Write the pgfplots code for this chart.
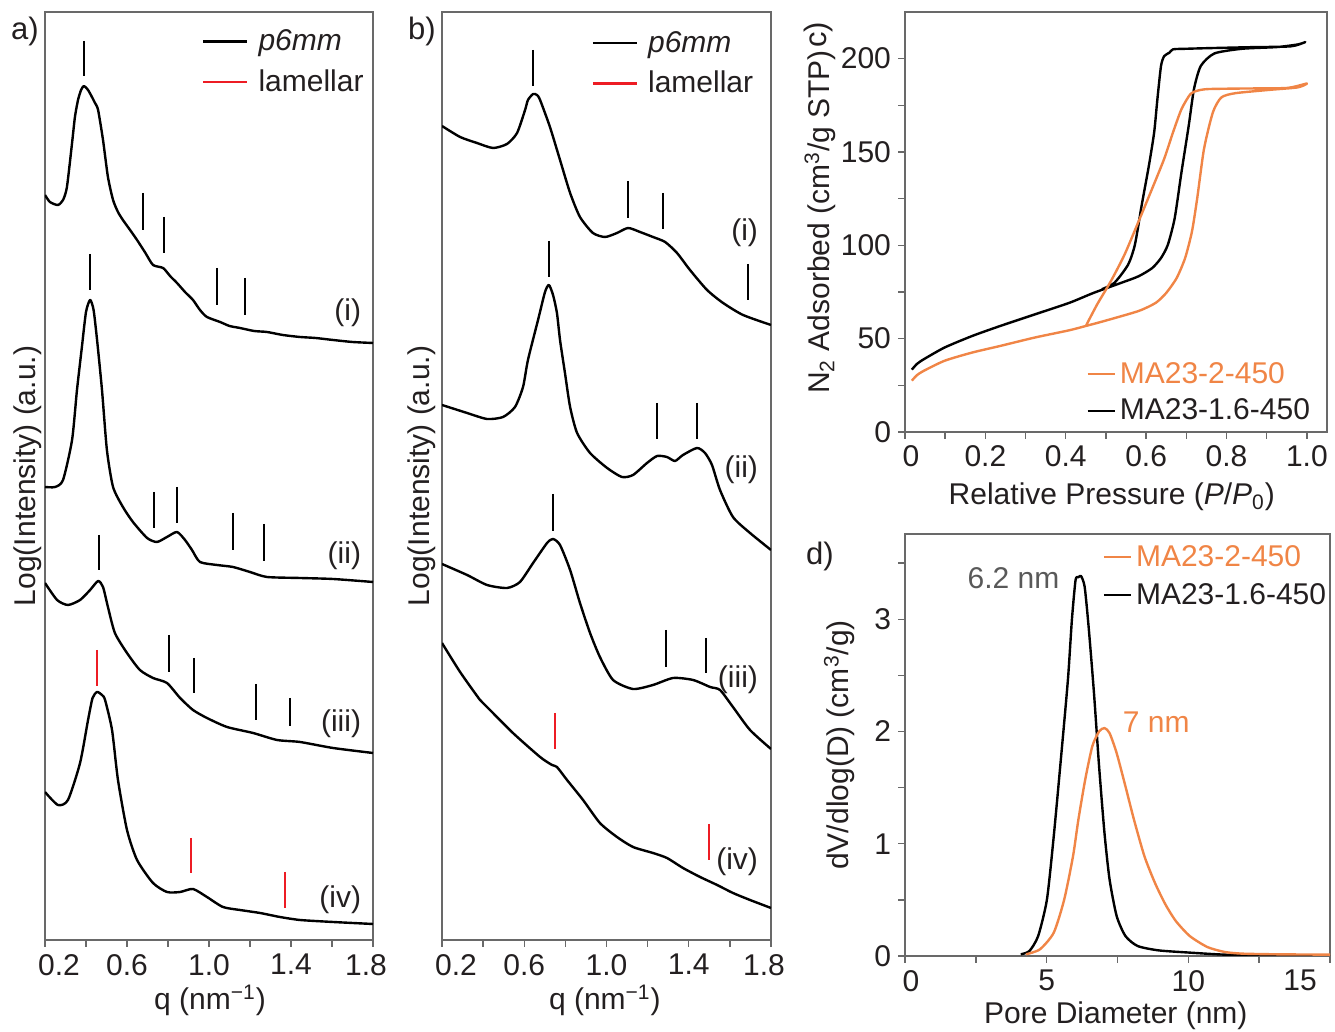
\documentclass[border=0pt]{standalone}
\usepackage{fontspec}
\setmainfont{Liberation Sans}
\usepackage{pgfplots}
\pgfplotsset{compat=1.18}
\definecolor{orng}{RGB}{240,133,70}
\definecolor{lred}{RGB}{237,28,36}
\definecolor{spine}{RGB}{105,105,105}
\definecolor{txt}{RGB}{35,31,32}
\newcommand{\fs}{\fontsize{15}{17.5}\selectfont}
\tikzset{roman/.style={anchor=east, font=\fs, text=txt}}
\pgfplotsset{
  base/.style={scale only axis, anchor=south west,
    axis line style={spine, line width=0.7pt},
    tick style={spine, line width=0.7pt},
    tick align=outside, major tick length=3.5pt, minor tick length=3.5pt,
    xtick pos=left, ytick pos=left,
    tick label style={font=\fs, text=txt},
    label style={font=\fs, text=txt},
    /pgf/number format/assume math mode=true,
    legend cell align=left,
    legend style={draw=none, fill=none, font=\fs, text=txt, inner sep=0pt, outer sep=0pt,
      /tikz/every even column/.append style={column sep=4pt}},
  },
  saxs/.style={base, xmin=0.2, xmax=1.8, ymin=-940, ymax=-12,
    xtick={0.2,0.6,1.0,1.4,1.8}, xticklabels={{0.2\kern-14pt},0.6,1.0,1.4,{\kern-7pt1.8}},
    minor xtick={0.4,0.8,1.2,1.6}, ytick=\empty,
    xlabel={q (nm\textsuperscript{−1})}, ylabel={Log(Intensity) (a.u.)},
    legend image code/.code={\draw[##1] (0pt,0pt) -- (22pt,0pt); \path (25pt,0pt);},
    legend style={row sep=4pt},
  },
  shortleg/.style={legend image code/.code={\draw[##1] (0pt,0pt) -- (13.5pt,0pt);}},
  curve/.style={black, line width=1.2pt, line join=round, smooth, tension=0.4},
  mbar/.style={black, line width=1.2pt, unbounded coords=jump, forget plot},
  rbar/.style={lred, line width=1.2pt, unbounded coords=jump, forget plot},
}
\begin{document}
\begin{tikzpicture}
\useasboundingbox (0,0) rectangle (667.5pt,516pt);
% ---------------- a) ----------------
\begin{axis}[saxs, at={(22.5pt,46pt)}, width=164pt, height=464pt,
  xlabel style={at={(axis description cs:0.503,-0.065)}, anchor=center},
  ylabel style={at={(axis description cs:-0.052,0.5)}, anchor=center},
  legend style={at={(axis description cs:0.479,0.9855)}, anchor=north west}]
\addplot[curve, forget plot] coordinates {
(0.200,-195) (0.224,-202) (0.263,-205) (0.288,-200) (0.307,-187) (0.332,-143) (0.346,-117)
(0.361,-100) (0.376,-90) (0.390,-86) (0.410,-90) (0.429,-97) (0.444,-103) (0.459,-110)
(0.483,-140) (0.507,-177) (0.532,-200) (0.556,-212) (0.580,-220) (0.615,-230) (0.649,-240)
(0.690,-253) (0.727,-265) (0.776,-268) (0.810,-276) (0.844,-283) (0.883,-292) (0.922,-300)
(0.956,-310) (0.990,-317) (1.054,-322) (1.100,-326) (1.151,-328) (1.220,-331) (1.283,-332)
(1.360,-335) (1.444,-337) (1.520,-338) (1.605,-340) (1.700,-342) (1.800,-343)};
\addplot[curve, forget plot] coordinates {
(0.200,-487) (0.249,-487) (0.288,-480) (0.332,-440) (0.356,-390) (0.380,-347) (0.400,-312)
(0.420,-300) (0.437,-310) (0.454,-340) (0.478,-390) (0.502,-450) (0.532,-487) (0.580,-507)
(0.629,-522) (0.698,-538) (0.746,-542) (0.795,-537) (0.844,-532) (0.883,-540) (0.917,-550)
(0.956,-562) (1.039,-565) (1.117,-567) (1.200,-572) (1.283,-577) (1.444,-578) (1.605,-579)
(1.800,-582)};
\addplot[curve, forget plot] coordinates {
(0.200,-583) (0.259,-600) (0.312,-605) (0.371,-600) (0.420,-590) (0.459,-581) (0.483,-587)
(0.507,-607) (0.541,-633) (0.600,-653) (0.663,-670) (0.727,-678) (0.795,-683) (0.859,-698)
(0.922,-710) (0.990,-718) (1.088,-727) (1.215,-733) (1.332,-740) (1.444,-742) (1.605,-748)
(1.800,-753)};
\addplot[curve, forget plot] coordinates {
(0.200,-792) (0.263,-805) (0.312,-800) (0.371,-763) (0.410,-720) (0.432,-698) (0.454,-692)
(0.478,-695) (0.493,-700) (0.527,-730) (0.556,-780) (0.600,-830) (0.649,-860) (0.727,-883)
(0.795,-892) (0.859,-892) (0.922,-889) (0.990,-897) (1.068,-907) (1.151,-910) (1.249,-913)
(1.346,-917) (1.444,-920) (1.605,-922) (1.800,-924)};
\addplot[mbar] coordinates {
(0.390,-41) (0.390,-76) (0.5,nan) (0.678,-193) (0.678,-230) (0.7,nan) (0.780,-217) (0.780,-253)
(0.9,nan) (1.039,-268) (1.039,-305) (1.1,nan) (1.176,-278) (1.176,-315)};
\addplot[mbar] coordinates {
(0.420,-254) (0.420,-290) (0.5,nan) (0.732,-492) (0.732,-528) (0.8,nan) (0.844,-487) (0.844,-523)
(0.9,nan) (1.117,-513) (1.117,-550) (1.2,nan) (1.268,-524) (1.268,-561)};
\addplot[mbar] coordinates {
(0.463,-535) (0.463,-570) (0.5,nan) (0.805,-635) (0.805,-672) (0.85,nan) (0.927,-658) (0.927,-693)
(1.0,nan) (1.229,-684) (1.229,-720) (1.3,nan) (1.395,-698) (1.395,-726)};
\addplot[rbar] coordinates {
(0.454,-650) (0.454,-686) (0.5,nan) (0.912,-838) (0.912,-873) (1.0,nan) (1.371,-872) (1.371,-908)};
\addlegendimage{black, line width=1.2pt}
\addlegendentry{\textit{p6mm}}
\addlegendimage{lred, line width=1.2pt}
\addlegendentry{lamellar}
\node[roman] at (axis cs:1.776,-313) {(i)};
\node[roman] at (axis cs:1.776,-556) {(ii)};
\node[roman] at (axis cs:1.776,-724) {(iii)};
\node[roman] at (axis cs:1.776,-900) {(iv)};
\end{axis}
% ---------------- b) ----------------
\begin{axis}[saxs, at={(221pt,46pt)}, width=164.5pt, height=464pt,
  xlabel style={at={(axis description cs:0.495,-0.065)}, anchor=center},
  ylabel style={at={(axis description cs:-0.061,0.5)}, anchor=center},
  legend style={at={(axis description cs:0.455,0.9835)}, anchor=north west}]
\addplot[curve, forget plot] coordinates {
(0.200,-126) (0.288,-137) (0.370,-143) (0.448,-148) (0.516,-144) (0.565,-133) (0.604,-110)
(0.618,-100) (0.643,-94) (0.662,-95) (0.677,-100) (0.725,-127) (0.774,-160) (0.823,-193)
(0.871,-217) (0.934,-233) (0.993,-237) (1.051,-233) (1.105,-228) (1.163,-232) (1.226,-237)
(1.285,-242) (1.343,-253) (1.406,-270) (1.489,-290) (1.567,-303) (1.664,-315) (1.800,-325)};
\addplot[curve, forget plot] coordinates {
(0.200,-405) (0.322,-413) (0.419,-419) (0.497,-417) (0.555,-407) (0.594,-387) (0.618,-360)
(0.667,-320) (0.701,-292) (0.720,-285) (0.740,-295) (0.759,-313) (0.774,-340) (0.798,-373)
(0.823,-407) (0.857,-433) (0.920,-453) (1.003,-468) (1.075,-477) (1.129,-475) (1.197,-463)
(1.246,-456) (1.294,-457) (1.333,-461) (1.372,-455) (1.440,-448) (1.479,-453) (1.513,-465)
(1.552,-490) (1.615,-517) (1.698,-533) (1.800,-550)};
\addplot[curve, forget plot] coordinates {
(0.200,-564) (0.322,-575) (0.419,-585) (0.516,-588) (0.579,-582) (0.643,-563) (0.711,-543)
(0.740,-539) (0.774,-545) (0.823,-570) (0.871,-603) (0.920,-633) (0.968,-657) (1.032,-680)
(1.129,-689) (1.226,-685) (1.324,-678) (1.421,-680) (1.504,-687) (1.552,-690) (1.615,-707)
(1.698,-730) (1.800,-749)};
\addplot[curve, forget plot] coordinates {
(0.200,-643) (0.288,-672) (0.385,-700) (0.419,-707) (0.545,-733) (0.677,-757) (0.735,-765)
(0.759,-767) (0.808,-780) (0.886,-800) (0.968,-823) (1.051,-837) (1.129,-847) (1.226,-853)
(1.294,-858) (1.372,-868) (1.455,-877) (1.538,-885) (1.615,-893) (1.698,-900) (1.800,-908)};
\addplot[mbar] coordinates {
(0.643,-50) (0.643,-86) (0.8,nan) (1.105,-181) (1.105,-218) (1.2,nan) (1.275,-193) (1.275,-229)
(1.4,nan) (1.688,-264) (1.688,-300)};
\addplot[mbar] coordinates {
(0.720,-241) (0.720,-277) (0.8,nan) (1.246,-403) (1.246,-439) (1.3,nan) (1.440,-403) (1.440,-439)};
\addplot[mbar] coordinates {
(0.740,-494) (0.740,-531) (0.8,nan) (1.289,-630) (1.289,-667) (1.4,nan) (1.484,-638) (1.484,-673)};
\addplot[rbar] coordinates {
(0.750,-713) (0.750,-749) (1.0,nan) (1.499,-824) (1.499,-860)};
\addlegendimage{black, line width=1.2pt}
\addlegendentry{\textit{p6mm}}
\addlegendimage{lred, line width=1.2pt}
\addlegendentry{lamellar}
\node[roman] at (axis cs:1.771,-233) {(i)};
\node[roman] at (axis cs:1.771,-470) {(ii)};
\node[roman] at (axis cs:1.771,-680) {(iii)};
\node[roman] at (axis cs:1.771,-862) {(iv)};
\end{axis}
% ---------------- c) ----------------
\begin{axis}[base, shortleg, at={(452.5pt,300pt)}, width=211pt, height=210pt,
  xmin=0, xmax=1.05, ymin=0, ymax=225,
  xtick={0,0.2,0.4,0.6,0.8,1.0}, xticklabels={{0\kern-6pt},0.2,0.4,0.6,0.8,1.0},
  minor xtick={0.1,0.3,0.5,0.7,0.9},
  ytick={0,50,100,150,200}, yticklabels={0,50,100,150,200},
  minor ytick={25,75,125,175},
  xlabel={Relative Pressure (\textit{P}/\textit{P}\textsubscript{0})},
  ylabel={N\textsubscript{2} Adsorbed (cm\textsuperscript{3}/g STP)},
  xlabel style={at={(axis description cs:0.49,-0.155)}, anchor=center},
  ylabel style={at={(axis description cs:-0.201,0.5)}, anchor=center},
  legend style={at={(axis description cs:0.43,0.176)}, anchor=north west, row sep=2.5pt}]
\addplot[curve, forget plot] coordinates {
(0.017,33.4) (0.030,36.5) (0.047,39.0) (0.099,45.3) (0.168,51.5) (0.237,56.8) (0.323,63.0)
(0.409,69.2) (0.469,74.5) (0.538,79.9) (0.581,83.4) (0.615,87.8) (0.637,93.2) (0.654,100.3)
(0.671,114.5) (0.688,139.3) (0.706,164.2) (0.719,183.7) (0.736,196.1) (0.770,202.8)
(0.839,205.3) (0.925,206.2) (0.977,207.6) (0.996,208.9)
(0.960,206.6) (0.850,206.1) (0.750,205.6) (0.701,205.3) (0.667,205.0) (0.658,203.2)
(0.645,201.4) (0.637,196.1) (0.628,178.3) (0.620,160.6) (0.607,142.9) (0.589,121.6)
(0.572,100.3) (0.555,89.6) (0.521,79.9) (0.490,76.5)};
\addplot[curve, orng, forget plot] coordinates {
(0.017,27.5) (0.030,30.5) (0.047,32.8) (0.099,38.2) (0.168,42.6) (0.237,46.1) (0.323,50.6)
(0.409,54.5) (0.450,56.8) (0.495,59.4) (0.581,64.8) (0.624,69.2) (0.650,74.5) (0.676,82.5)
(0.697,93.2) (0.714,107.4) (0.727,125.1) (0.744,151.7) (0.766,171.2) (0.787,179.2)
(0.822,181.5) (0.908,183.3) (0.977,184.6) (1.000,186.7)
(0.950,184.3) (0.839,184.0) (0.753,183.7) (0.727,182.8) (0.710,181.0) (0.688,173.0)
(0.667,160.6) (0.645,146.4) (0.615,130.4) (0.581,112.7) (0.546,94.9) (0.512,80.7)
(0.478,68.3) (0.450,56.8)};
\addlegendimage{orng, line width=1.2pt}
\addlegendentry{\textcolor{orng}{MA23-2-450}}
\addlegendimage{black, line width=1.2pt}
\addlegendentry{MA23-1.6-450}
\end{axis}
% ---------------- d) ----------------
\begin{axis}[base, shortleg, at={(452.5pt,38pt)}, width=212.5pt, height=211pt,
  xmin=0, xmax=15, ymin=0, ymax=3.76,
  xtick={0,5,10,15}, xticklabels={{0\kern-6pt},5,10,{\kern-30pt15}}, minor xtick={2.5,7.5,12.5},
  ytick={0,1,2,3}, yticklabels={0,1,2,3}, minor ytick={0.5,1.5,2.5,3.5},
  xlabel={Pore Diameter (nm)},
  ylabel={dV/dlog(D) (cm\textsuperscript{3}/g)},
  xlabel style={at={(axis description cs:0.496,-0.142)}, anchor=center},
  ylabel style={at={(axis description cs:-0.154,0.5)}, anchor=center},
  legend style={at={(axis description cs:0.465,0.983)}, anchor=north west, row sep=3pt}]
\addplot[curve, forget plot] coordinates {
(4.085,0.015) (4.39,0.044) (4.70,0.178) (5.01,0.504) (5.25,1.067) (5.50,1.749) (5.75,2.461)
(5.89,2.994) (6.02,3.350) (6.12,3.374) (6.21,3.386) (6.34,3.291) (6.48,2.935) (6.67,2.342)
(6.85,1.690) (7.04,1.097) (7.22,0.682) (7.47,0.356) (7.78,0.178) (8.21,0.089) (8.95,0.050)
(10.05,0.030) (11.28,0.012) (13.13,0.003) (15,0)};
\addplot[curve, orng, forget plot] coordinates {
(4.27,0.015) (4.76,0.059) (5.25,0.208) (5.62,0.504) (5.93,0.889) (6.12,1.216) (6.36,1.571)
(6.61,1.868) (6.85,2.001) (7.04,2.031) (7.22,1.986) (7.47,1.808) (7.78,1.512) (8.08,1.216)
(8.45,0.889) (8.82,0.652) (9.19,0.460) (9.56,0.311) (10.05,0.178) (10.67,0.080) (11.28,0.036)
(11.90,0.021) (13.13,0.015) (15,0.012)};
\addlegendimage{orng, line width=1.2pt}
\addlegendentry{\textcolor{orng}{MA23-2-450}}
\addlegendimage{black, line width=1.2pt}
\addlegendentry{MA23-1.6-450}
\node[font=\fs, text=black!65] at (axis cs:3.83,3.368) {6.2 nm};
\node[font=\fs, text=orng] at (axis cs:8.87,2.085) {7 nm};
\end{axis}
% panel labels
\node[font=\fontsize{15.5}{18}\selectfont, text=txt] at (12.5pt,500.5pt) {a)};
\node[font=\fontsize{15.5}{18}\selectfont, text=txt] at (211pt,500.5pt) {b)};
\node[font=\fontsize{15.5}{18}\selectfont, text=txt, rotate=90] at (409pt,498.5pt) {c)};
\node[font=\fontsize{15.5}{18}\selectfont, text=txt] at (410pt,238pt) {d)};
\end{tikzpicture}
\end{document}
